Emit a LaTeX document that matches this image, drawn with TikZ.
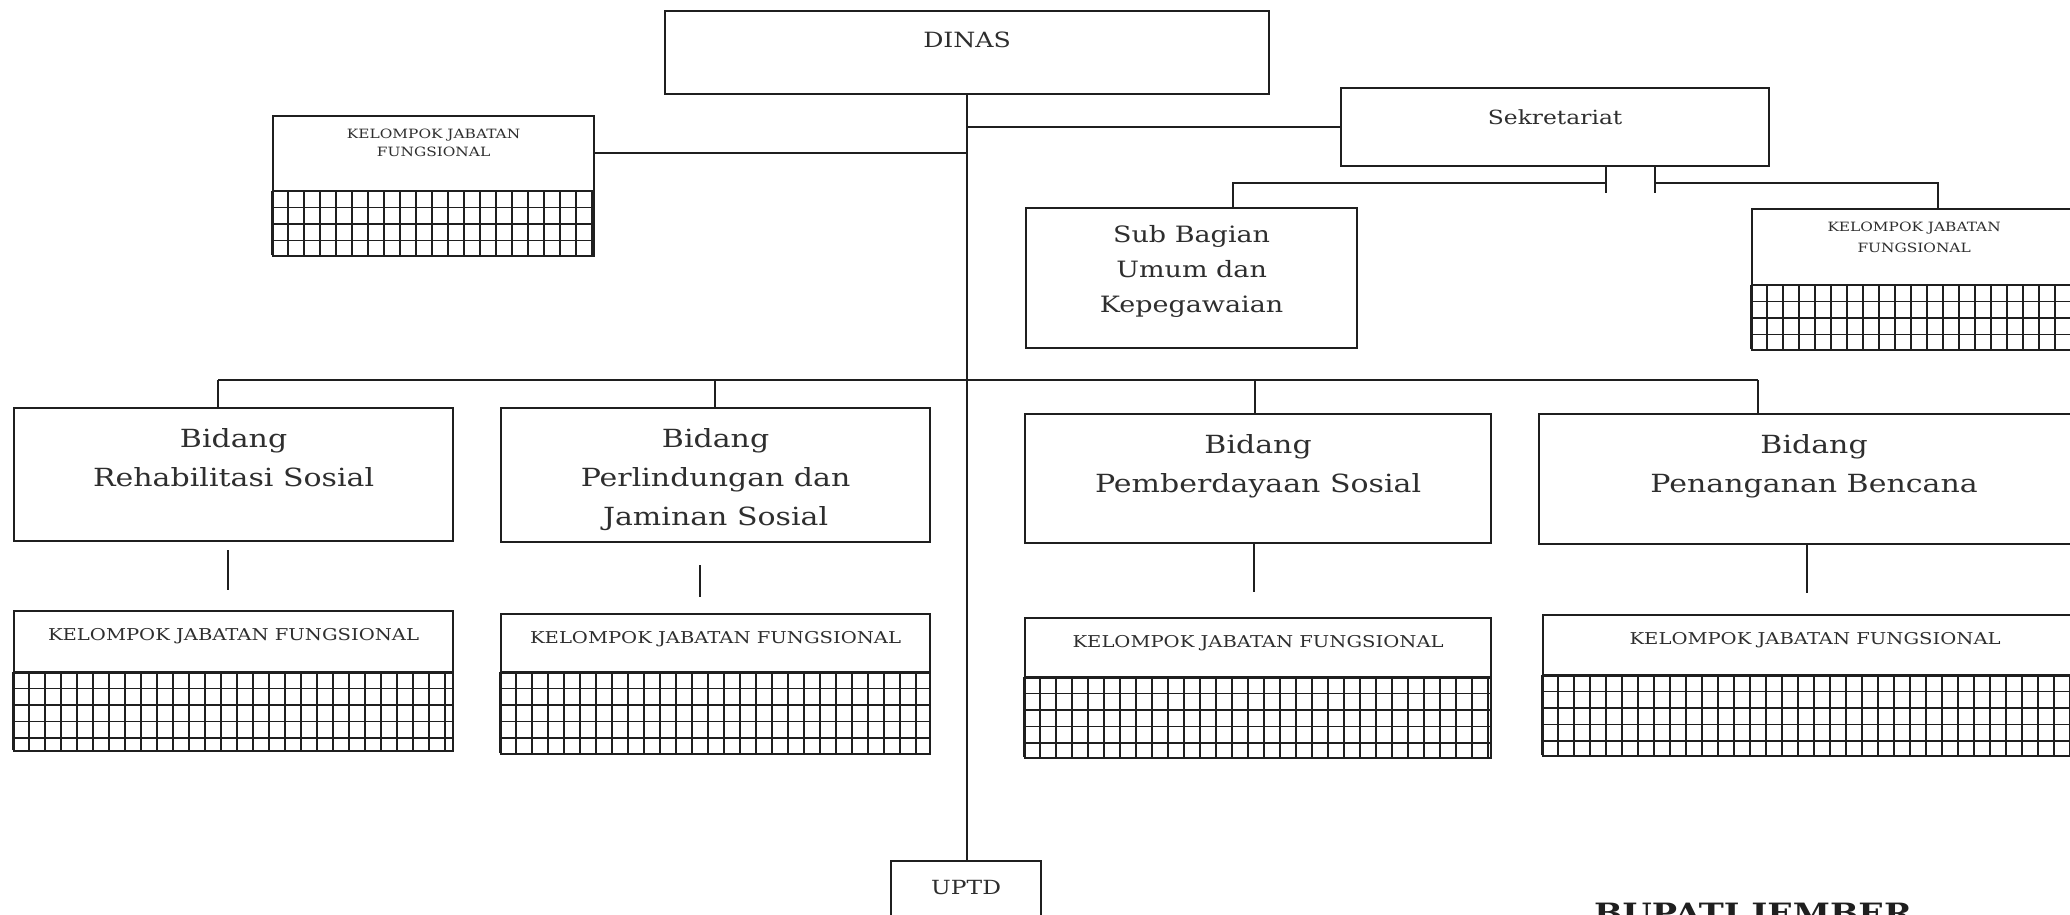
\documentclass[tikz,border=0pt]{standalone}
\usepackage{fontspec}
\setmainfont{DejaVu Serif}[FakeStretch=1.2]
\usepackage{tikz}
\usetikzlibrary{positioning}
\definecolor{ink}{HTML}{1F1F1F}
\definecolor{inktext}{HTML}{2E2E2E}

\begin{document}
\begin{tikzpicture}[x=1pt,y=-1pt,
		box/.style={draw=ink,line width=2.2pt,inner sep=0pt,anchor=north west},
		txt/.style={anchor=north,inner sep=0pt,align=center,text=inktext},
		ln/.style={draw=ink,line width=1.6pt},
		grd/.style={draw=ink,line width=1.5pt},
		dinasf/.style={txt,font=\fontsize{21}{25}\selectfont,yshift=-22pt},
		sekf/.style={txt,font=\fontsize{19.5}{23}\selectfont,yshift=-22pt},
		subf/.style={txt,font=\fontsize{22.5}{35}\selectfont,yshift=-18pt},
		bidf/.style={txt,font=\fontsize{25}{39}\selectfont,yshift=-21pt},
		kjff/.style={txt,font=\fontsize{16.3}{20}\selectfont,yshift=-18pt},
		kjfsm/.style={txt,font=\fontsize{12.8}{#1}\selectfont,yshift=-14pt},
		uptdf/.style={txt,font=\fontsize{19.5}{23}\selectfont,yshift=-20pt}
		]
		\useasboundingbox (0,0) rectangle (2070,915);
		\clip (0,0) rectangle (2070,915);
		\node[box,minimum width=604pt,minimum height=83pt,label={[dinasf]north:DINAS}] (dinas) at (664,10) {};
		\node[box,minimum width=428pt,minimum height=78pt,label={[sekf]north:Sekretariat}] (sek) at (1340,87) {};
		\node[box,minimum width=321pt,minimum height=140pt,label={[kjfsm=18pt]north:KELOMPOK JABATAN\\FUNGSIONAL}] (kjf0) at (272,115) {};
		\node[box,minimum width=331pt,minimum height=140pt,label={[subf]north:Sub Bagian\\Umum dan\\Kepegawaian}] (sub) at (1025,207) {};
		\node[box,minimum width=324pt,minimum height=141pt,label={[kjfsm=21pt]north:KELOMPOK JABATAN\\FUNGSIONAL}] (kjfs) at (1751,208) {};
		\node[box,minimum width=439pt,minimum height=133pt,label={[bidf]north:Bidang\\Rehabilitasi Sosial}] (b1) at (13,407) {};
		\node[box,minimum width=429pt,minimum height=134pt,label={[bidf]north:Bidang\\Perlindungan dan\\Jaminan Sosial}] (b2) at (500,407) {};
		\node[box,minimum width=466pt,minimum height=129pt,label={[bidf]north:Bidang\\Pemberdayaan Sosial}] (b3) at (1024,413) {};
		\node[box,minimum width=550pt,minimum height=130pt,label={[bidf]north:Bidang\\Penanganan Bencana}] (b4) at (1538,413) {};
		\node[box,minimum width=439pt,minimum height=140pt,below=68pt of b1.south west,anchor=north west,label={[kjff]north:KELOMPOK JABATAN FUNGSIONAL}] (kjf1) {};
		\node[box,minimum width=429pt,minimum height=140pt,below=70pt of b2.south west,anchor=north west,label={[kjff]north:KELOMPOK JABATAN FUNGSIONAL}] (kjf2) {};
		\node[box,minimum width=466pt,minimum height=140pt,below=73pt of b3.south west,anchor=north west,label={[kjff]north:KELOMPOK JABATAN FUNGSIONAL}] (kjf3) {};
		\node[box,minimum width=544pt,minimum height=141pt,below=69pt of b4.south west,anchor=north west,xshift=4pt,label={[kjff]north:KELOMPOK JABATAN FUNGSIONAL}] (kjf4) {};
		\node[box,minimum width=150pt,minimum height=80pt,label={[uptdf]north:UPTD}] (uptd) at (890,860) {};
		\node[anchor=north west,inner sep=0pt,text=ink,font=\bfseries\fontsize{28}{32}\selectfont] (bupati) at (1594,903) {BUPATI JEMBER};

		\foreach \k/\w/\g/\h in {kjf0/321/76/64,kjfs/324/77/64,kjf1/439/62/78,kjf2/429/59/81,kjf3/466/60/80,kjf4/544/61/80}{
			\begin{scope}[shift={([yshift=-\g pt]\k.north west)}]
				\draw[grd] (0,\h) grid[xstep=16pt,ystep=16.5pt] (\w,0);
				\draw[ink,line width=2.8pt] (0,0) -- (\w,0);
			\end{scope}
		}

		\draw[ln] (dinas.south) -- (dinas.south |- uptd.north);
		\draw[ln] (sek.west) -- (sek.west -| dinas);
		\coordinate (k0) at (593,153);
		\draw[ln] (k0) -- (k0 -| dinas);

		\coordinate (sa) at (1606,183);
		\coordinate (sb) at (1655,183);
		\coordinate (ta) at (1233,183);
		\coordinate (tb) at (1938,183);
		\draw[ln] (sa |- sek.south) -- ++(0,26);
		\draw[ln] (sb |- sek.south) -- ++(0,26);
		\draw[ln] (sa) -- (ta) -- (ta |- sub.north);
		\draw[ln] (sb) -- (tb) -- (tb |- kjfs.north);

		\foreach \n/\x in {1/218,2/715,3/1255,4/1758}
			\coordinate (d\n) at (\x,380);
		\draw[ln] (d1) -- (d4);
		\foreach \n in {1,...,4}
			\draw[ln] (d\n) -- (d\n |- b\n.north);

		\foreach \n/\x/\a/\b in {1/228/550/590,2/700/565/597,3/1254/542/592,4/1807/543/593}{
			\coordinate (u\n) at (\x,\a);
			\coordinate (v\n) at (\x,\b);
			\draw[ln] (u\n) -- (v\n);
		}
	\end{tikzpicture}
\end{document}
